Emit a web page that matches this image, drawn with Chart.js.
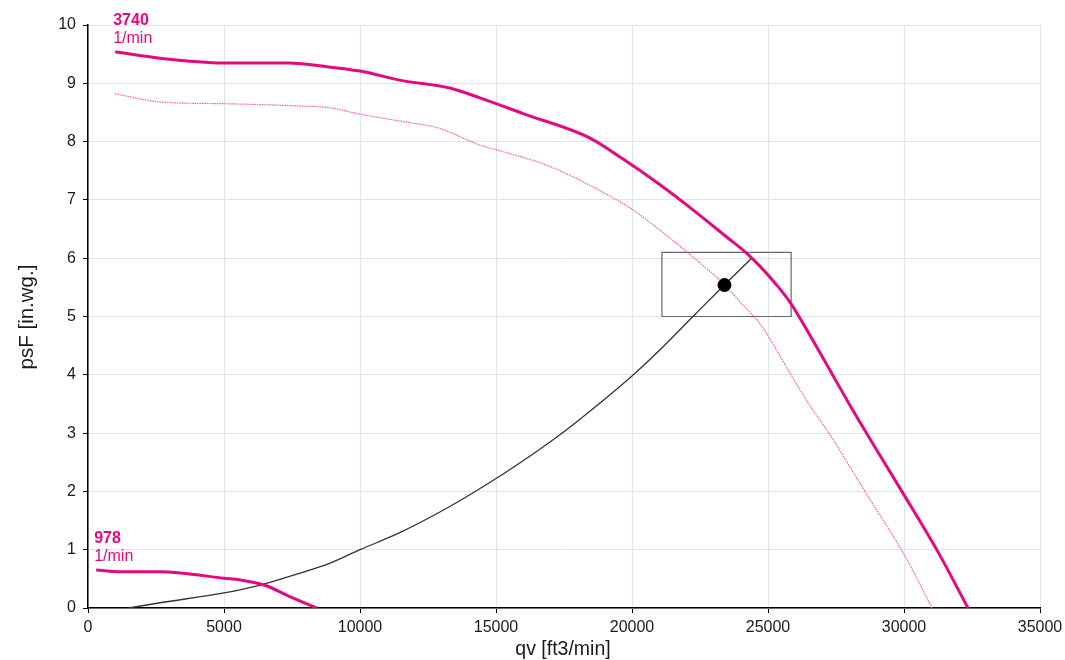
<!DOCTYPE html>
<html>
<head>
<meta charset="utf-8">
<title>Fan curve</title>
<script src="https://cdn.jsdelivr.net/npm/chart.js@4/dist/chart.umd.min.js"></script>
<style>
  html, body { margin: 0; padding: 0; background: #fff; }
  canvas { display: block; }
</style>
</head>
<body>
<canvas id="c" width="1065" height="660"></canvas>
<script>
// Fan characteristic at full speed (3740 1/min), thick line
const fullQ = [1000, 2650, 5000, 7400, 8500, 10000, 11500, 13300, 14410, 16000, 18455, 19670, 21030, 22240, 23490, 24230, 24710, 25300, 25800, 26540, 27350, 28120, 28750, 30000, 31300, 32350];
const fullP = [9.54, 9.43, 9.35, 9.35, 9.30, 9.21, 9.05, 8.92, 8.75, 8.48, 8.06, 7.70, 7.26, 6.83, 6.36, 6.08, 5.86, 5.55, 5.25, 4.68, 4.02, 3.39, 2.90, 1.94, 0.92, 0.00];

// Fan characteristic, dotted companion curve
const dotQ = [1000, 2650, 5000, 7800, 8900, 10000, 11500, 12900, 14410, 15000, 16600, 17350, 18570, 20000, 21030, 22240, 23350, 23970, 24710, 25810, 26430, 27280, 28010, 28750, 30000, 31030];
const dotP = [8.82, 8.68, 8.65, 8.61, 8.58, 8.47, 8.35, 8.23, 7.94, 7.86, 7.64, 7.50, 7.22, 6.84, 6.48, 6.02, 5.57, 5.25, 4.87, 4.03, 3.55, 2.97, 2.42, 1.86, 0.92, 0.00];

// Fan characteristic at minimum speed (978 1/min)
const lowQ = [300, 1200, 2650, 3400, 5000, 5600, 6500, 7400, 8400];
const lowP = [0.65, 0.62, 0.62, 0.60, 0.51, 0.48, 0.39, 0.20, 0.00];

// System resistance curve
const sysQ = [1500, 2650, 5000, 6300, 7800, 8900, 10000, 11500, 13300, 15000, 16600, 17350, 18200, 20000, 21030, 22240, 23350, 24400];
const sysP = [0.00, 0.09, 0.26, 0.39, 0.60, 0.77, 1.00, 1.30, 1.74, 2.22, 2.72, 2.97, 3.28, 3.98, 4.43, 5.00, 5.52, 6.00];

// Operating point and tolerance window
const opQ = [23400];
const opP = [5.54];
const boxQ = [21100, 25850, 25850, 21100, 21100];
const boxP = [5.00, 5.00, 6.10, 6.10, 5.00];

// Axis ticks
const xTicks = [0, 5000, 10000, 15000, 20000, 25000, 30000, 35000];
const yTicks = [0, 1, 2, 3, 4, 5, 6, 7, 8, 9, 10];

// Speed labels
const speedLabels = [
  { value: '3740', unit: '1/min', q: 1000, p: 9.54 },
  { value: '978', unit: '1/min', q: 300, p: 0.65 }
];

const MAGENTA = '#e5097f';
const FONT = '"Liberation Sans", Arial, sans-serif';
const toXY = (qs, ps) => qs.map((q, i) => ({ x: q, y: ps[i] }));

const labelPlugin = {
  id: 'labels',
  afterDraw(chart) {
    const ctx = chart.ctx;
    const xs = chart.scales.x, ys = chart.scales.y;
    ctx.save();
    // speed labels above the curve starts
    ctx.fillStyle = MAGENTA;
    ctx.textAlign = 'left';
    ctx.textBaseline = 'alphabetic';
    speedLabels.forEach(l => {
      const px = xs.getPixelForValue(l.q) - 2;
      const py = ys.getPixelForValue(l.p);
      ctx.font = 'bold 16px ' + FONT;
      ctx.fillText(l.value, px, py - 27);
      ctx.font = '16px ' + FONT;
      ctx.fillText(l.unit, px, py - 9);
    });
    // axis titles
    ctx.fillStyle = '#1a1a1a';
    ctx.textAlign = 'center';
    ctx.textBaseline = 'middle';
    ctx.font = '19.5px ' + FONT;
    ctx.fillText('qv [ft3/min]', 563, 650);
    ctx.font = '20.5px ' + FONT;
    ctx.translate(27, 317);
    ctx.rotate(-Math.PI / 2);
    ctx.fillText('psF [in.wg.]', 0, 0);
    ctx.restore();
  }
};

new Chart(document.getElementById('c'), {
  type: 'scatter',
  data: {
    datasets: [
      { label: 'operating point', data: toXY(opQ, opP), showLine: false, order: 0, pointRadius: 6.5, pointBackgroundColor: '#000', pointBorderColor: '#000' },
      { label: '3740 1/min', data: toXY(fullQ, fullP), showLine: true, order: 1, borderColor: MAGENTA, borderWidth: 3, pointRadius: 0, cubicInterpolationMode: 'monotone' },
      { label: '978 1/min', data: toXY(lowQ, lowP), showLine: true, order: 1, borderColor: MAGENTA, borderWidth: 3, pointRadius: 0, cubicInterpolationMode: 'monotone' },
      { label: 'dotted', data: toXY(dotQ, dotP), showLine: true, order: 2, borderColor: '#ef5fab', borderWidth: 1.2, borderDash: [1.5, 1], pointRadius: 0, cubicInterpolationMode: 'monotone' },
      { label: 'system', data: toXY(sysQ, sysP), showLine: true, order: 2, borderColor: '#333', borderWidth: 1.3, pointRadius: 0, cubicInterpolationMode: 'monotone' },
      { label: 'window', data: toXY(boxQ, boxP), showLine: true, order: 3, borderColor: '#666', borderWidth: 1.2, pointRadius: 0, tension: 0 }
    ]
  },
  options: {
    responsive: false,
    devicePixelRatio: 1,
    animation: false,
    layout: { padding: { left: 0, top: 25, right: 25, bottom: 0 } },
    plugins: { legend: { display: false }, tooltip: { enabled: false } },
    scales: {
      x: {
        type: 'linear', min: 0, max: 35000,
        afterBuildTicks: s => { s.ticks = xTicks.map(v => ({ value: v })); },
        afterFit: s => { s.height = 52; s.paddingLeft = 0; s.paddingRight = 0; },
        ticks: { color: '#1a1a1a', font: { size: 16, family: FONT }, padding: 5, maxRotation: 0, callback: v => String(v) },
        grid: { color: '#dde4ee', tickColor: '#000', tickLength: 5, lineWidth: 1 },
        border: { color: '#000', width: 1.5 }
      },
      y: {
        type: 'linear', min: 0, max: 10,
        afterBuildTicks: s => { s.ticks = yTicks.map(v => ({ value: v })); },
        afterFit: s => { s.width = 88; s.paddingTop = 0; s.paddingBottom = 0; },
        ticks: { color: '#1a1a1a', font: { size: 16, family: FONT }, padding: 7, callback: v => String(v) },
        grid: { color: '#dde4ee', tickColor: '#000', tickLength: 5, lineWidth: 1 },
        border: { color: '#000', width: 1.5 }
      }
    }
  },
  plugins: [labelPlugin]
});
</script>
</body>
</html>
